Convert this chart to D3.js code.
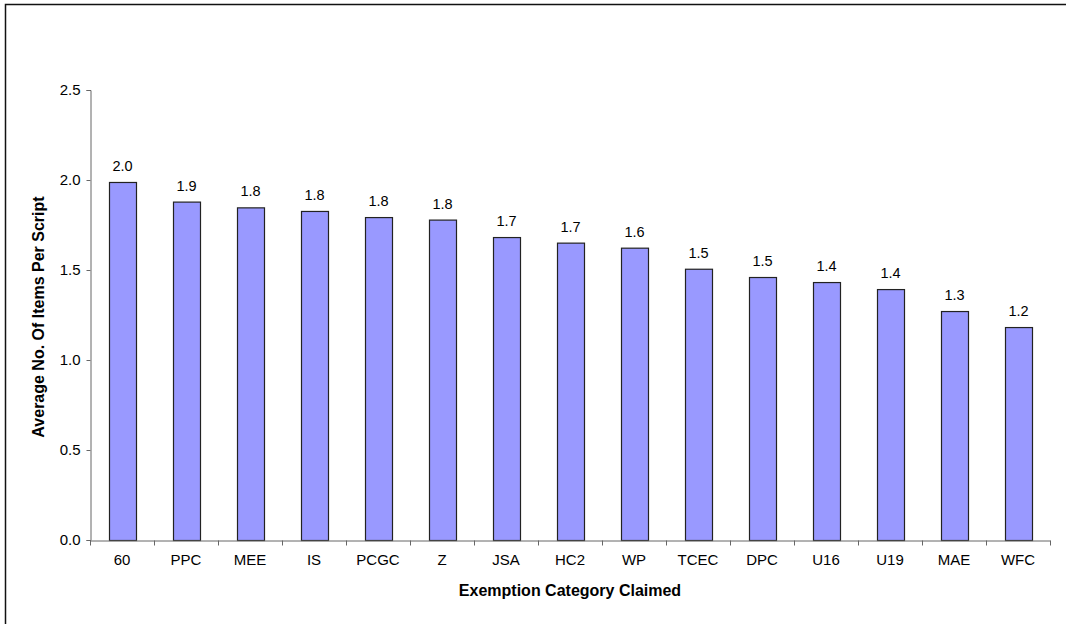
<!DOCTYPE html>
<html>
<head>
<meta charset="utf-8">
<script src="https://cdn.jsdelivr.net/npm/d3@7"></script>
<style>
  html, body { margin: 0; padding: 0; background: #fff; overflow: hidden; }
  svg { display: block; font-family: "Liberation Sans", Arial, sans-serif; }
</style>
</head>
<body>
<svg id="chart" width="1066" height="624"></svg>
<script>
// Exemption categories and average items per script
const categories = ["60", "PPC", "MEE", "IS", "PCGC", "Z", "JSA", "HC2", "WP", "TCEC", "DPC", "U16", "U19", "MAE", "WFC"];
const averages = [1.989, 1.88, 1.848, 1.828, 1.794, 1.78, 1.683, 1.652, 1.624, 1.507, 1.461, 1.433, 1.394, 1.272, 1.183];
const yTicks = [0.0, 0.5, 1.0, 1.5, 2.0, 2.5];
const xTitle = "Exemption Category Claimed";
const yTitle = "Average No. Of Items Per Script";

const data = categories.map((c, i) => ({ category: c, value: averages[i] }));

const svg = d3.select("#chart");
const plot = { left: 90, right: 1050, top: 90, bottom: 540 };

// Chart frame (runs off the right and bottom edges)
svg.append("rect")
  .attr("x", 5.5).attr("y", 4.5)
  .attr("width", 1080).attr("height", 640)
  .attr("fill", "none").attr("stroke", "#111").attr("stroke-width", 1.5);

const x = d3.scaleBand()
  .domain(categories)
  .range([plot.left, plot.right])
  .paddingInner(0.58)
  .paddingOuter(0.29);

const y = d3.scaleLinear()
  .domain([0, 2.5])
  .range([plot.bottom, plot.top]);

const fmt = d3.format(".1f");

// Bars
svg.append("g")
  .selectAll("rect")
  .data(data)
  .join("rect")
  .attr("x", d => Math.round(x(d.category)) + 0.5)
  .attr("y", d => y(d.value) + 0.5)
  .attr("width", Math.round(x.bandwidth()))
  .attr("height", d => y(0) - y(d.value))
  .attr("fill", "#9999ff")
  .attr("stroke", "#222")
  .attr("stroke-width", 1.2);

// Value labels
svg.append("g")
  .selectAll("text")
  .data(data)
  .join("text")
  .attr("x", d => x(d.category) + x.bandwidth() / 2 + 0.5)
  .attr("y", d => y(d.value) - 11)
  .attr("text-anchor", "middle")
  .attr("font-size", 14.5)
  .attr("fill", "#000")
  .text(d => fmt(d.value));

// Y axis
const yAxis = svg.append("g")
  .attr("transform", `translate(${plot.left + 0.5},0)`)
  .call(d3.axisLeft(y).tickValues(yTicks).tickFormat(fmt).tickSize(4).tickPadding(6));
yAxis.select(".domain").attr("stroke", "#666");
yAxis.selectAll(".tick line").attr("stroke", "#666");
yAxis.selectAll(".tick text")
  .attr("font-size", 15)
  .attr("font-family", "Liberation Sans, Arial, sans-serif")
  .attr("fill", "#000");

// X axis: labels centred in bands, ticks at band boundaries
const xAxis = svg.append("g")
  .attr("transform", `translate(0,${plot.bottom + 0.5})`)
  .call(d3.axisBottom(x).tickSize(0).tickPadding(14).tickSizeOuter(0));
xAxis.select(".domain").attr("stroke", "#666");
xAxis.selectAll(".tick text")
  .attr("font-size", 15)
  .attr("font-family", "Liberation Sans, Arial, sans-serif")
  .attr("fill", "#000");

const boundaries = d3.range(categories.length + 1).map(i => x.range()[0] + i * x.step());
xAxis.append("g")
  .selectAll("line")
  .data(boundaries)
  .join("line")
  .attr("x1", d => Math.round(d) + 0.5)
  .attr("x2", d => Math.round(d) + 0.5)
  .attr("y1", 0)
  .attr("y2", 5)
  .attr("stroke", "#666");

// Axis titles
svg.append("text")
  .attr("x", (plot.left + plot.right) / 2)
  .attr("y", 596)
  .attr("text-anchor", "middle")
  .attr("font-size", 16)
  .attr("font-weight", "bold")
  .text(xTitle);

svg.append("text")
  .attr("transform", `translate(44,${(plot.top + plot.bottom) / 2 + 2}) rotate(-90)`)
  .attr("text-anchor", "middle")
  .attr("font-size", 16)
  .attr("font-weight", "bold")
  .text(yTitle);
</script>
</body>
</html>
